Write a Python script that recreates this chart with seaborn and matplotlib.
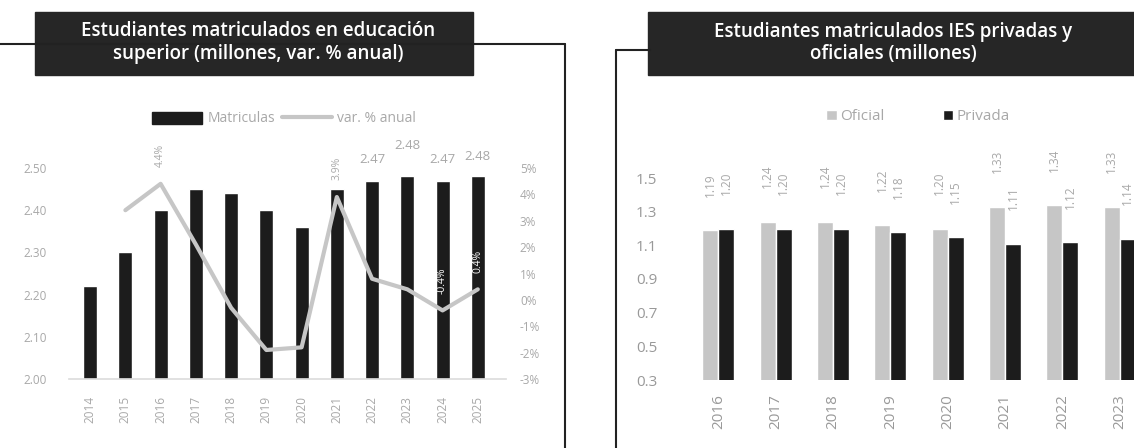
import numpy as np
import pandas as pd
import matplotlib
matplotlib.use('Agg')
import matplotlib.pyplot as plt
import seaborn as sns
from matplotlib.lines import Line2D
from matplotlib.patches import Patch, Rectangle

# datos: matriculas totales (millones) y variacion anual (%)
years_a = ['2014', '2015', '2016', '2017', '2018', '2019', '2020',
           '2021', '2022', '2023', '2024', '2025']
matriculas = [2.22, 2.30, 2.40, 2.45, 2.44, 2.40, 2.36, 2.45, 2.47, 2.48, 2.47, 2.48]
var_anual = [np.nan, 3.4, 4.4, 2.1, -0.3, -1.9, -1.8, 3.9, 0.8, 0.4, -0.4, 0.4]

# etiquetas visibles en el grafico
bar_label_years = ['2022', '2023', '2024', '2025']
bar_label_off = [15, 22, 15, 14]
line_label_years = ['2016', '2021', '2024', '2025']
line_label_color = ['#a8a8a8', '#a8a8a8', 'white', 'white']

# datos: IES oficiales vs privadas (millones)
years_b = ['2016', '2017', '2018', '2019', '2020', '2021', '2022', '2023']
oficial = [1.19, 1.24, 1.24, 1.22, 1.20, 1.33, 1.34, 1.33]
privada = [1.20, 1.20, 1.20, 1.18, 1.15, 1.11, 1.12, 1.14]

dark = '#1c1c1c'
light = '#c6c6c6'
tick_grey = '#a8a8a8'

sns.set_theme(style='white')
plt.rcParams['font.family'] = ['Open Sans', 'DejaVu Sans']

W, H = 1134, 448
fig = plt.figure(figsize=(W / 100, H / 100), dpi=100)
fig.patch.set_facecolor('white')

def fx(px):
    return px / W

def fy(py):
    return 1 - py / H

# ---- left chart ----
ax1 = fig.add_axes([fx(69), fy(379), fx(506 - 69), 211 / H])
sns.barplot(x=years_a, y=matriculas, color=dark, width=0.4, saturation=1, ax=ax1)
ax1.set_ylim(2.0, 2.5)
ax1.set_xlim(-0.6, 11.8)
ax1.set_yticks(np.arange(2.0, 2.501, 0.1))
ax1.set_yticklabels([f'{v:.2f}' for v in np.arange(2.0, 2.501, 0.1)])
ax1.tick_params(axis='y', length=0, labelsize=8.5, colors=tick_grey, pad=16)
ax1.tick_params(axis='x', length=0, labelsize=8.5, colors=tick_grey, pad=12, rotation=90)
for s in ax1.spines.values():
    s.set_visible(False)
ax1.spines['bottom'].set_visible(True)
ax1.spines['bottom'].set_color('#dddddd')
ax1.set_xlabel('')
ax1.set_ylabel('')

ax2 = ax1.twinx()
sns.lineplot(x=range(len(years_a)), y=var_anual, color=light, lw=3, ax=ax2)
ax2.set_ylim(-3, 5)
ax2.set_yticks(range(-3, 6))
ax2.set_yticklabels([f'{v}%' for v in range(-3, 6)])
ax2.tick_params(axis='y', length=0, labelsize=8.5, colors=tick_grey, pad=10)
for s in ax2.spines.values():
    s.set_visible(False)
ax2.set_ylabel('')

for y, off in zip(bar_label_years, bar_label_off):
    i = years_a.index(y)
    ax1.annotate(f'{matriculas[i]:.2f}', (i, matriculas[i]), xytext=(0, off),
                 textcoords='offset points', ha='center', va='center',
                 fontsize=9.5, color=tick_grey, annotation_clip=False)

for y, c in zip(line_label_years, line_label_color):
    i = years_a.index(y)
    ax2.annotate(f'{var_anual[i]:.1f}%', (i, var_anual[i]), xytext=(0, 12),
                 textcoords='offset points', ha='center', va='bottom', rotation=90,
                 fontsize=7.5, color=c, annotation_clip=False)

handles = [Patch(color=dark), Line2D([0], [0], color=light, lw=3)]
fig.legend(handles, ['Matriculas', 'var. % anual'], loc='center',
           bbox_to_anchor=(fx(284), fy(119)), ncol=2, frameon=False,
           fontsize=10, labelcolor=tick_grey, handlelength=3.6, handleheight=1.0,
           columnspacing=0.5, handletextpad=0.4)

# ---- right chart ----
df = pd.DataFrame({'year': years_b * 2,
                   'tipo': ['Oficial'] * len(years_b) + ['Privada'] * len(years_b),
                   'valor': oficial + privada})
ax3 = fig.add_axes([fx(685), fy(380), fx(W - 685), 202 / H])
sns.barplot(data=df, x='year', y='valor', hue='tipo', palette=[light, dark],
            width=0.56, saturation=1, ax=ax3)
ax3.set_ylim(0.3, 1.5)
ax3.set_xlim(-0.58, 7.25)
ax3.set_yticks(np.arange(0.3, 1.51, 0.2))
ax3.set_yticklabels([f'{v:.1f}' for v in np.arange(0.3, 1.51, 0.2)])
ax3.tick_params(axis='y', length=0, labelsize=11, colors='#999999', pad=20)
ax3.tick_params(axis='x', length=0, labelsize=11, colors='#999999', pad=10, rotation=90)
for s in ax3.spines.values():
    s.set_visible(False)
ax3.set_xlabel('')
ax3.set_ylabel('')
for cont in ax3.containers:
    ax3.bar_label(cont, fmt='%.2f', rotation=90, padding=24, fontsize=8.5,
                  color=tick_grey, clip_on=False)
sns.move_legend(ax3, loc='center', bbox_to_anchor=(fx(918), fy(117)),
                bbox_transform=fig.transFigure, ncol=2, frameon=False, title=None,
                fontsize=11, labelcolor=tick_grey, handlelength=0.7,
                handleheight=0.7, columnspacing=3.8, handletextpad=0.2)

# ---- frames and title boxes ----
fig.add_artist(Line2D([0, fx(565)], [fy(44), fy(44)], color='#222222', lw=1.5,
                      transform=fig.transFigure))
fig.add_artist(Line2D([fx(565), fx(565)], [fy(44), 0], color='#222222', lw=1.5,
                      transform=fig.transFigure))
fig.add_artist(Line2D([fx(616), fx(650)], [fy(50), fy(50)], color='#222222', lw=1.5,
                      transform=fig.transFigure))
fig.add_artist(Line2D([fx(616), fx(616)], [fy(50), 0], color='#222222', lw=1.5,
                      transform=fig.transFigure))

fig.add_artist(Rectangle((fx(35), fy(75)), fx(473 - 35), 63 / H, color='#262626',
                         transform=fig.transFigure))
fig.text(fx(258), fy(43), 'Estudiantes matriculados en educación\nsuperior (millones, var. % anual)',
         ha='center', va='center', color='white', fontsize=13.5, fontweight='semibold',
         linespacing=1.2)
fig.add_artist(Rectangle((fx(648), fy(75)), fx(W - 648), 63 / H, color='#262626',
                         transform=fig.transFigure))
fig.text(fx(893), fy(43), 'Estudiantes matriculados IES privadas y\noficiales (millones)',
         ha='center', va='center', color='white', fontsize=13.5, fontweight='semibold',
         linespacing=1.2)

fig.savefig('out.png', dpi=100)
